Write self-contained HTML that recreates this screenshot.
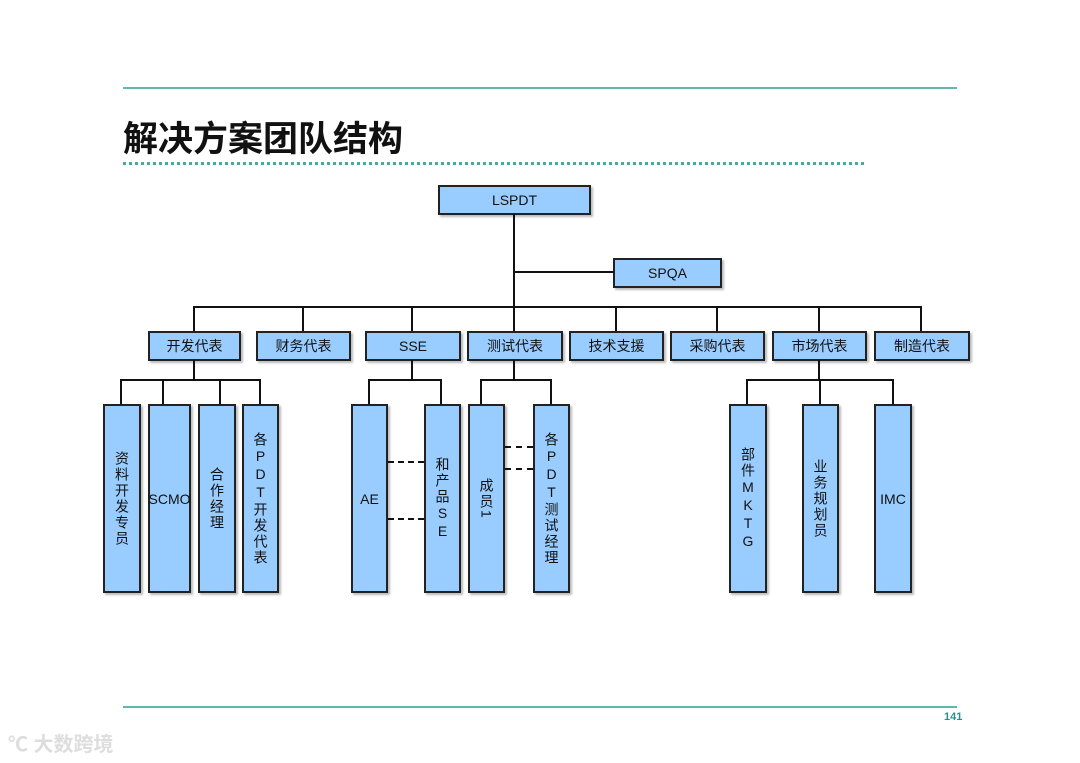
<!DOCTYPE html>
<html><head><meta charset="utf-8"><style>
body{margin:0;width:1080px;height:763px;background:#fff;position:relative;overflow:hidden;font-family:"Liberation Sans","Noto Sans CJK SC",sans-serif}
.a{position:absolute}
.b{position:absolute;background:#99ccff;border:2px solid #222;box-sizing:border-box;display:flex;align-items:center;justify-content:center;font-size:14px;color:#111;box-shadow:2px 2px 2px #bbb}
.v{writing-mode:vertical-rl;text-orientation:upright;letter-spacing:2px;line-height:1}
.l{position:absolute;background:#111}
.d{position:absolute;border-top:2px dashed #111;height:0}
</style></head><body>
<div class="a" style="left:123px;top:87px;width:834px;height:2px;background:#5fb8b0"></div>
<div class="a" style="left:123px;top:111px;font-size:35px;font-weight:bold;color:#111">解决方案团队结构</div>
<div class="a" style="left:123px;top:162px;width:741px;border-top:3px dotted #4aa8a0"></div>

<div class="b" style="left:438px;top:185px;width:153px;height:30px">LSPDT</div>
<div class="b" style="left:613px;top:258px;width:109px;height:30px">SPQA</div>
<div class="l" style="left:513px;top:214px;width:2px;height:94px"></div>
<div class="l" style="left:514px;top:271px;width:100px;height:2px"></div>
<div class="l" style="left:193px;top:306px;width:729px;height:2px"></div>

<div class="l" style="left:193px;top:306px;width:2px;height:25px"></div>
<div class="l" style="left:302px;top:306px;width:2px;height:25px"></div>
<div class="l" style="left:411px;top:306px;width:2px;height:25px"></div>
<div class="l" style="left:513px;top:306px;width:2px;height:25px"></div>
<div class="l" style="left:615px;top:306px;width:2px;height:25px"></div>
<div class="l" style="left:716px;top:306px;width:2px;height:25px"></div>
<div class="l" style="left:818px;top:306px;width:2px;height:25px"></div>
<div class="l" style="left:920px;top:306px;width:2px;height:25px"></div>

<div class="b" style="left:148px;top:331px;width:93px;height:30px">开发代表</div>
<div class="b" style="left:256px;top:331px;width:95px;height:30px">财务代表</div>
<div class="b" style="left:365px;top:331px;width:96px;height:30px">SSE</div>
<div class="b" style="left:467px;top:331px;width:96px;height:30px">测试代表</div>
<div class="b" style="left:569px;top:331px;width:95px;height:30px">技术支援</div>
<div class="b" style="left:670px;top:331px;width:95px;height:30px">采购代表</div>
<div class="b" style="left:772px;top:331px;width:95px;height:30px">市场代表</div>
<div class="b" style="left:874px;top:331px;width:96px;height:30px">制造代表</div>

<div class="l" style="left:193px;top:360px;width:2px;height:21px"></div>
<div class="l" style="left:120px;top:379px;width:141px;height:2px"></div>
<div class="l" style="left:120px;top:379px;width:2px;height:25px"></div>
<div class="l" style="left:162px;top:379px;width:2px;height:25px"></div>
<div class="l" style="left:219px;top:379px;width:2px;height:25px"></div>
<div class="l" style="left:259px;top:379px;width:2px;height:25px"></div>
<div class="b v" style="left:103px;top:404px;width:38px;height:189px">资料开发专员</div>
<div class="b" style="left:148px;top:404px;width:43px;height:189px">SCMO</div>
<div class="b v" style="left:198px;top:404px;width:38px;height:189px">合作经理</div>
<div class="b v" style="left:242px;top:404px;width:37px;height:189px">各PDT开发代表</div>

<div class="l" style="left:411px;top:360px;width:2px;height:21px"></div>
<div class="l" style="left:368px;top:379px;width:74px;height:2px"></div>
<div class="l" style="left:368px;top:379px;width:2px;height:25px"></div>
<div class="l" style="left:440px;top:379px;width:2px;height:25px"></div>
<div class="b" style="left:351px;top:404px;width:37px;height:189px">AE</div>
<div class="b v" style="left:424px;top:404px;width:37px;height:189px">和产品SE</div>
<div class="d" style="left:388px;top:461px;width:36px"></div>
<div class="d" style="left:388px;top:518px;width:36px"></div>

<div class="l" style="left:513px;top:360px;width:2px;height:21px"></div>
<div class="l" style="left:480px;top:379px;width:72px;height:2px"></div>
<div class="l" style="left:480px;top:379px;width:2px;height:25px"></div>
<div class="l" style="left:550px;top:379px;width:2px;height:25px"></div>
<div class="b" style="left:468px;top:404px;width:37px;height:189px;writing-mode:vertical-rl;font-size:14px;letter-spacing:2px">成员1</div>
<div class="b v" style="left:533px;top:404px;width:37px;height:189px">各PDT测试经理</div>
<div class="d" style="left:505px;top:446px;width:28px"></div>
<div class="d" style="left:505px;top:468px;width:28px"></div>

<div class="l" style="left:818px;top:360px;width:2px;height:21px"></div>
<div class="l" style="left:746px;top:379px;width:148px;height:2px"></div>
<div class="l" style="left:746px;top:379px;width:2px;height:25px"></div>
<div class="l" style="left:819px;top:379px;width:2px;height:25px"></div>
<div class="l" style="left:892px;top:379px;width:2px;height:25px"></div>
<div class="b v" style="left:729px;top:404px;width:38px;height:189px">部件MKTG</div>
<div class="b v" style="left:802px;top:404px;width:37px;height:189px">业务规划员</div>
<div class="b" style="left:874px;top:404px;width:38px;height:189px">IMC</div>

<div class="a" style="left:123px;top:706px;width:834px;height:2px;background:#5fb8b0"></div>
<div class="a" style="left:944px;top:711px;font-size:11px;font-weight:bold;color:#2a8f8a">141</div>
<div class="a" style="left:8px;top:728px;font-size:20px;color:#ddd;font-weight:bold">℃ 大数跨境</div>
</body></html>
